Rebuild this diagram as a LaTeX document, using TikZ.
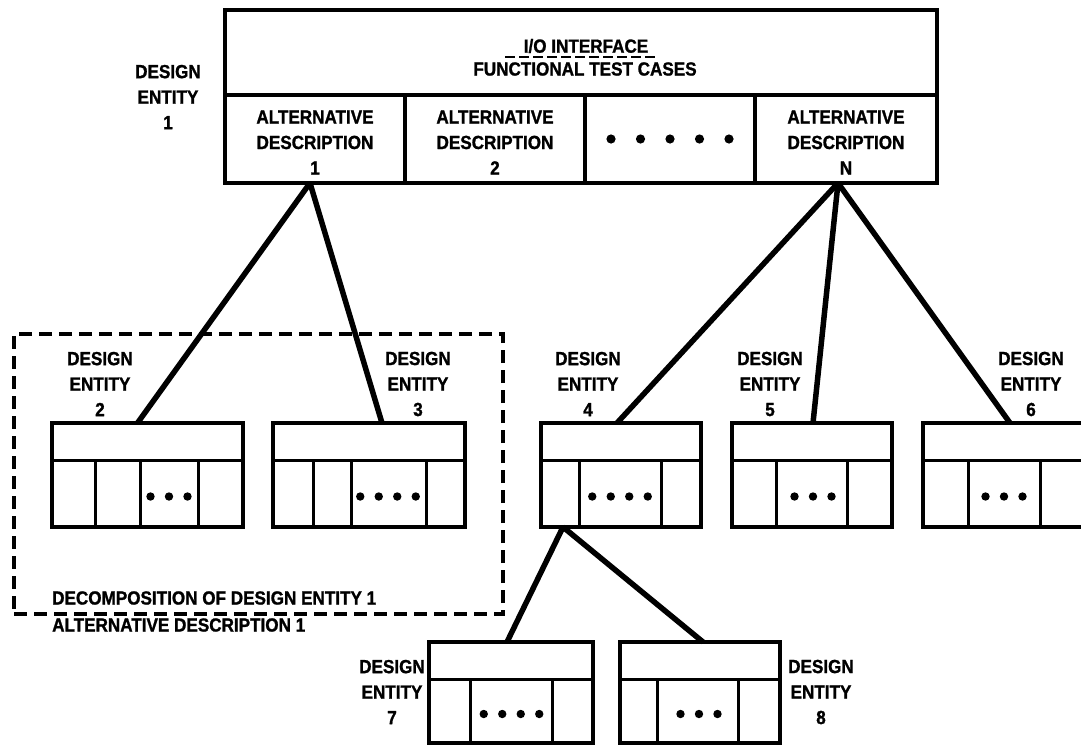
\documentclass[tikz,border=0pt]{standalone}
\usepackage{fontspec}
\setmainfont{Liberation Sans}[FakeStretch=0.9, BoldFeatures={FakeBold=1.2}]
\usetikzlibrary{positioning,calc}
\tikzset{
    % Base style for all texts
    fig base/.style={
        font=\bfseries\fontsize{19}{25.5}\selectfont,
        align=center,
        inner sep=0pt,
    },
    % Cells of the big entity box
    cell/.style={
        fig base,
        rectangle,
        draw,
        line width=3.2pt,
        outer sep=0pt,
    },
    % Small entity boxes
    ebox/.style={
        rectangle,
        draw,
        line width=3.2pt,
        inner sep=0pt,
        outer sep=0pt,
    },
    % Inner lines of a small box
    boxline/.style={line width=3pt},
    % Connector between entities
    link/.style={line width=5.5pt},
    % Dashed frame round a decomposition
    frame/.style={
        draw,
        line width=3.2pt,
        dash pattern=on 13pt off 7pt,
        inner sep=0pt,
    },
    % Text labels
    tag/.style={fig base},
}

% name, north west corner, width, height, column lines, dot centre, dots
\newcommand{\entitybox}[7]{%
    \node[ebox, anchor=north west, minimum width=#3pt, minimum height=#4pt] (#1) at #2 {};
    \draw[boxline] ([yshift=-37pt]#1.north west) -- ([yshift=-37pt]#1.north east);
    \foreach \cx in {#5}
        \draw[boxline] ([shift={(\cx,37)}]#1.north west) -- ([shift={(\cx,0)}]#1.south west);
    \foreach \k in {1,...,#7}
        \fill ([shift={({#6+18.5*\k-9.25*#7-9.25},{37+0.5*(#4-37)+3})}]#1.north west) circle (4.2pt);
}

\begin{document}
\begin{tikzpicture}[x=1pt, y=-1pt]
    \useasboundingbox (0,0) rectangle (1081,745);
    \clip (0,0) rectangle (1081,745);

    % design entity 1
    \node[cell, minimum width=712pt, minimum height=85pt] (iohead) at (581,52.5) {};
    \node[tag] (iotitle) at (586,46) {I/O INTERFACE};
    \node[tag] (iosub) at (585,69) {FUNCTIONAL TEST CASES};
    \draw[line width=2.4pt, dash pattern=on 10pt off 4pt]
        ($(iotitle.center)+(-81,11)$) -- ($(iotitle.center)+(72,11)$);

    \node[cell, anchor=north west, minimum width=180pt, minimum height=88pt, text height=71pt] (alt1) at (iohead.south west) {ALTERNATIVE\\DESCRIPTION\\1};
    \node[cell, right=0pt of alt1, minimum width=180pt, minimum height=88pt, text height=71pt] (alt2) {ALTERNATIVE\\DESCRIPTION\\2};
    \node[cell, right=0pt of alt2, minimum width=170pt, minimum height=88pt] (altdots) {};
    \node[cell, right=0pt of altdots, minimum width=182pt, minimum height=88pt, text height=71pt] (altN) {ALTERNATIVE\\DESCRIPTION\\N};
    \foreach \k in {-2,...,2}
        \fill ([xshift=\k*29.5]altdots.center) circle (4.6pt);

    \node[tag] (lbl1) at (168,97) {DESIGN\\ENTITY\\1};

    % decomposition frame
    \node[frame, minimum width=489pt, minimum height=280pt] (decomp) at (258.5,474) {};
    \node[tag, anchor=west] (decomptxt) at (52,598) {DECOMPOSITION OF DESIGN ENTITY 1};
    \node[tag, anchor=west] (decompalt) at (52,625) {ALTERNATIVE DESCRIPTION 1};

    % lower entities
    \entitybox{e2}{(52,423)}{191}{104}{43,88,146}{117}{3}
    \entitybox{e3}{(273,423)}{192}{104}{40,78,153}{115}{4}
    \entitybox{e4}{(541,423)}{160}{104}{38,120}{79}{4}
    \entitybox{e5}{(732,423)}{160}{104}{44,115}{81}{3}
    \entitybox{e6}{(923,423)}{160}{104}{45,117}{81}{3}
    \entitybox{e7}{(429,642)}{164}{101}{41,123}{82.5}{4}
    \entitybox{e8}{(620,642)}{160}{101}{37,118}{79}{3}

    \node[tag] (lbl2) at (100,384) {DESIGN\\ENTITY\\2};
    \node[tag] (lbl3) at (418,384) {DESIGN\\ENTITY\\3};
    \node[tag] (lbl4) at (588,384) {DESIGN\\ENTITY\\4};
    \node[tag] (lbl5) at (770,384) {DESIGN\\ENTITY\\5};
    \node[tag] (lbl6) at (1031,384) {DESIGN\\ENTITY\\6};
    \node[tag] (lbl7) at (392,692) {DESIGN\\ENTITY\\7};
    \node[tag] (lbl8) at (821,692) {DESIGN\\ENTITY\\8};

    % connectors
    \draw[link] ([xshift=-5pt]alt1.south) -- ([xshift=-10pt]e2.north);
    \draw[link] ([xshift=-5pt]alt1.south) -- ([xshift=13pt]e3.north);
    \draw[link] ([xshift=-8pt]altN.south) -- ([xshift=-4pt]e4.north);
    \draw[link] ([xshift=-8pt]altN.south) -- ([xshift=1pt]e5.north);
    \draw[link] ([xshift=-8pt]altN.south) -- ([xshift=7pt]e6.north);
    \draw[link] ([xshift=-58pt]e4.south) -- ([xshift=-4pt]e7.north);
    \draw[link] ([xshift=-58pt]e4.south) -- ([xshift=3pt]e8.north);
\end{tikzpicture}
\end{document}
